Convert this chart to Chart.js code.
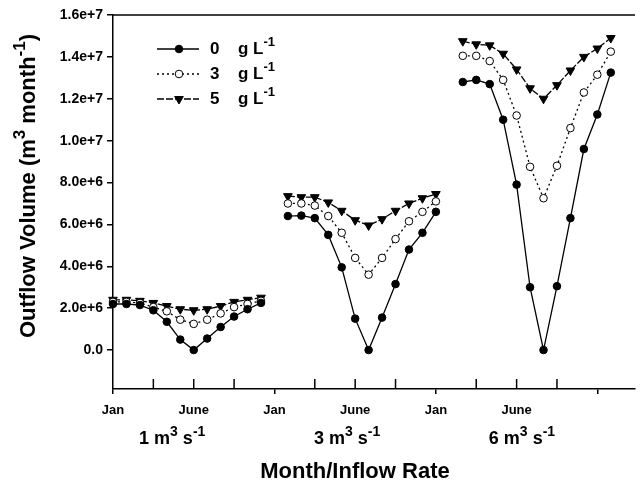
<!DOCTYPE html>
<html>
<head>
<meta charset="utf-8">
<script src="https://cdn.jsdelivr.net/npm/chart.js@4.4.1/dist/chart.umd.min.js"></script>
<style>
  html, body { margin: 0; padding: 0; background: #fff; }
  #wrap { width: 641px; height: 483px; }
</style>
</head>
<body>
<div id="wrap"><canvas id="outflowChart" width="641" height="483"></canvas></div>
<script>
// months in each inflow block, and the three inflow rates (m3 s-1)
const months = ["Jan", "Feb", "Mar", "Apr", "May", "June", "Jul", "Aug", "Sep", "Oct", "Nov", "Dec"];
const rates = ["1", "3", "6"];
const concentrations = ["0", "3", "5"];   // g L-1

// x tick labels, one tick every 3 months
const xTickLabels = ["Jan", "", "June", "", "Jan", "", "June", "", "Jan", "", "June", "", ""];
const yTicks = [0, 2e6, 4e6, 6e6, 8e6, 1e7, 1.2e7, 1.4e7, 1.6e7];

// outflow volume (m3 month-1)
const zero_1 = [2.2e6, 2.2e6, 2.15e6, 1.9e6, 1.35e6, 0.5e6, 0, 0.55e6, 1.1e6, 1.6e6, 1.95e6, 2.25e6];
const zero_3 = [6.4e6, 6.42e6, 6.3e6, 5.5e6, 3.95e6, 1.5e6, 0, 1.55e6, 3.15e6, 4.8e6, 5.6e6, 6.6e6];
const zero_6 = [12.8e6, 12.9e6, 12.7e6, 11.0e6, 7.9e6, 3.0e6, 0, 3.05e6, 6.3e6, 9.6e6, 11.25e6, 13.25e6];

const three_1 = [2.3e6, 2.3e6, 2.25e6, 2.05e6, 1.85e6, 1.45e6, 1.25e6, 1.45e6, 1.75e6, 2.05e6, 2.2e6, 2.35e6];
const three_3 = [7.0e6, 7.0e6, 6.9e6, 6.4e6, 5.6e6, 4.4e6, 3.6e6, 4.4e6, 5.3e6, 6.15e6, 6.6e6, 7.1e6];
const three_6 = [14.05e6, 14.05e6, 13.8e6, 12.9e6, 11.2e6, 8.75e6, 7.25e6, 8.8e6, 10.6e6, 12.3e6, 13.15e6, 14.25e6];

const five_1 = [2.4e6, 2.4e6, 2.35e6, 2.25e6, 2.1e6, 1.95e6, 1.9e6, 1.95e6, 2.1e6, 2.3e6, 2.4e6, 2.5e6];
const five_3 = [7.35e6, 7.3e6, 7.3e6, 7.05e6, 6.65e6, 6.2e6, 5.95e6, 6.25e6, 6.65e6, 7.0e6, 7.25e6, 7.45e6];
const five_6 = [14.75e6, 14.6e6, 14.55e6, 14.15e6, 13.4e6, 12.5e6, 12.0e6, 12.65e6, 13.35e6, 14.0e6, 14.4e6, 14.9e6];

const FONT = '"Liberation Sans", Arial, sans-serif';
const BLOCK = months.length + 1;   // one empty month between inflow blocks

// blocks side by side on one x axis, with a gap (null) after each
function toPoints(blocks) {
  const pts = [];
  blocks.forEach((vals, b) => {
    vals.forEach((v, i) => pts.push({ x: b * BLOCK + i, y: v }));
    pts.push({ x: b * BLOCK + months.length, y: null });
  });
  return pts;
}

// text with superscript parts: parts = [[text, isSup], ...]
function richText(ctx, parts, x, y, size, align) {
  const supSize = Math.round(size * 0.78);
  let total = 0;
  parts.forEach(p => {
    ctx.font = "bold " + (p[1] ? supSize : size) + "px " + FONT;
    total += ctx.measureText(p[0]).width;
  });
  let cx = align === "center" ? x - total / 2 : x;
  ctx.textAlign = "left";
  ctx.textBaseline = "middle";
  parts.forEach(p => {
    ctx.font = "bold " + (p[1] ? supSize : size) + "px " + FONT;
    ctx.fillText(p[0], cx, p[1] ? y - size * 0.38 : y);
    cx += ctx.measureText(p[0]).width;
  });
}

const extras = {
  id: "extras",
  afterDraw(chart) {
    const ctx = chart.ctx;
    const area = chart.chartArea;
    const xs = chart.scales.x;
    ctx.save();
    ctx.strokeStyle = "#000";
    ctx.fillStyle = "#000";
    ctx.lineWidth = 1.5;

    // top frame line
    ctx.beginPath();
    ctx.moveTo(area.left, area.top);
    ctx.lineTo(area.right, area.top);
    ctx.stroke();

    // minor ticks pointing up into the plot
    xs.ticks.forEach(t => {
      if (t.value % 12 === 0) return;
      const px = xs.getPixelForValue(t.value);
      ctx.beginPath();
      ctx.moveTo(px, area.bottom);
      ctx.lineTo(px, area.bottom - 10);
      ctx.stroke();
    });

    // inflow rate under each block
    rates.forEach((r, b) => {
      const px = xs.getPixelForValue(b * BLOCK + 4.4);
      richText(ctx, [[r + " m", false], ["3", true], [" s", false], ["-1", true]], px, 439, 18, "center");
    });

    // axis titles
    richText(ctx, [["Month/Inflow Rate", false]], 355, 472, 22, "center");
    ctx.save();
    ctx.translate(29, 186);
    ctx.rotate(-Math.PI / 2);
    richText(ctx, [["Outflow Volume (m", false], ["3", true], [" month", false], ["-1", true], [")", false]], 0, 0, 22, "center");
    ctx.restore();

    // legend
    chart.data.datasets.forEach((ds, i) => {
      const ly = 49 + i * 25;
      ctx.save();
      ctx.lineWidth = ds.borderWidth;
      ctx.setLineDash(ds.borderDash || []);
      ctx.beginPath();
      ctx.moveTo(157, ly);
      ctx.lineTo(199, ly);
      ctx.stroke();
      ctx.restore();
      ctx.fillStyle = ds.pointBackgroundColor;
      ctx.strokeStyle = "#000";
      ctx.lineWidth = 1;
      Chart.helpers.drawPoint(ctx, {
        pointStyle: ds.pointStyle, radius: ds.pointRadius,
        rotation: ds.pointRotation || 0, borderWidth: 1
      }, 179, ly);
      ctx.fillStyle = "#000";
      richText(ctx, [[ds.label, false]], 210, ly, 17, "left");
      richText(ctx, [["g L", false], ["-1", true]], 238, ly, 17, "left");
    });
    ctx.restore();
  }
};

const common = { borderColor: "#000", pointBorderColor: "#000", pointBorderWidth: 1, borderWidth: 1.3, spanGaps: false, clip: false };

new Chart(document.getElementById("outflowChart").getContext("2d"), {
  type: "line",
  data: {
    datasets: [
      Object.assign({}, common, {
        label: concentrations[0], data: toPoints([zero_1, zero_3, zero_6]),
        pointStyle: "circle", pointRadius: 3.8, pointBackgroundColor: "#000"
      }),
      Object.assign({}, common, {
        label: concentrations[1], data: toPoints([three_1, three_3, three_6]),
        borderDash: [2, 3], pointStyle: "circle", pointRadius: 3.8, pointBackgroundColor: "#fff"
      }),
      Object.assign({}, common, {
        label: concentrations[2], data: toPoints([five_1, five_3, five_6]),
        borderDash: [7, 2], pointStyle: "triangle", pointRotation: 180, pointRadius: 5, pointBackgroundColor: "#000"
      })
    ]
  },
  options: {
    responsive: false,
    animation: false,
    devicePixelRatio: 1,
    layout: { padding: { left: 0, right: 0, top: 15, bottom: 0 } },
    plugins: { legend: { display: false }, tooltip: { enabled: false } },
    elements: { line: { tension: 0 } },
    scales: {
      x: {
        type: "linear", min: 0, max: 38.8,
        afterBuildTicks: s => { s.ticks = xTickLabels.map((l, i) => ({ value: i * 3 })); },
        afterFit: s => { s.height = 94; },
        ticks: {
          autoSkip: false, maxRotation: 0, color: "#000", padding: 9,
          font: { family: FONT, size: 13, weight: "bold" },
          callback: (v, i) => xTickLabels[i]
        },
        grid: {
          drawOnChartArea: false, tickLength: 5, lineWidth: 1.5,
          color: c => (c.tick && c.tick.value % 12 === 0) ? "#000" : "rgba(0,0,0,0)"
        },
        border: { display: true, color: "#000", width: 1.5 }
      },
      y: {
        type: "linear", min: -1.86e6, max: 1.6e7,
        afterBuildTicks: s => { s.ticks = yTicks.map(v => ({ value: v })); },
        afterFit: s => { s.width = 113; },
        ticks: {
          color: "#000", padding: 4,
          font: { family: FONT, size: 14, weight: "bold" },
          callback: v => v === 0 ? "0.0" : v.toExponential(1)
        },
        grid: { drawOnChartArea: false, tickLength: 6, color: "#000", lineWidth: 1.5 },
        border: { display: true, color: "#000", width: 1.5 }
      }
    }
  },
  plugins: [extras]
});
</script>
</body>
</html>
